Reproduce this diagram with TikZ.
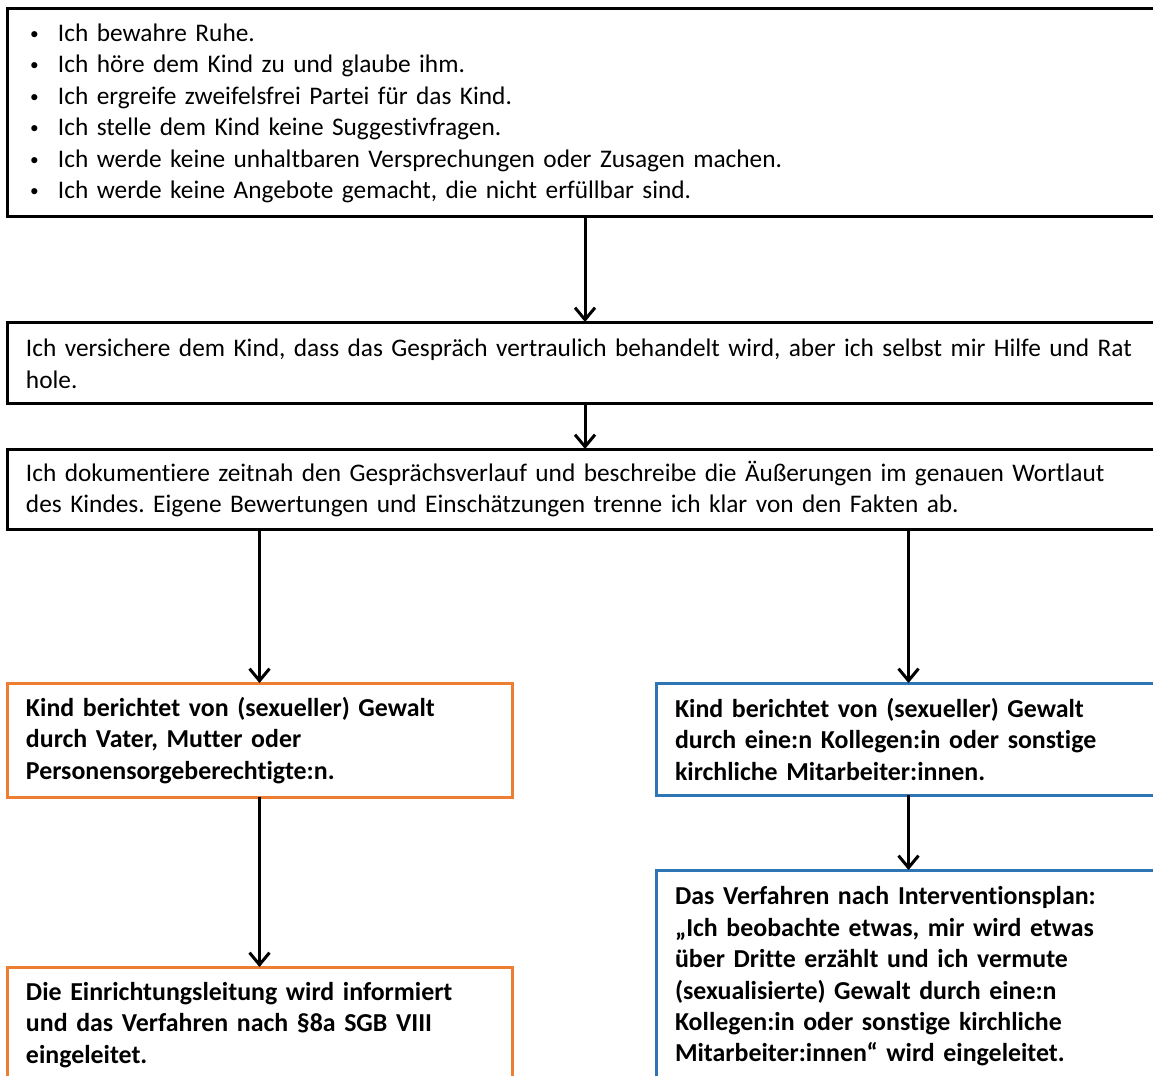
\documentclass[tikz,border=0pt]{standalone}
\usepackage{fontspec}
\setmainfont{Carlito}[Ligatures={NoCommon,NoContextual}]
\usetikzlibrary{arrows.meta}
\definecolor{orangeB}{HTML}{ED7D31}
\definecolor{blueB}{HTML}{2E75B6}
\newcommand{\bul}{\hspace*{3pt}\makebox[21pt][l]{\fontsize{13}{13}\selectfont\raisebox{1.5pt}{•}}}
\frenchspacing
\begin{document}
\begin{tikzpicture}[x=0.75pt,y=-0.75pt,
  box/.style={draw, line width=2.25pt, anchor=north west, align=left,
    inner xsep=14.25pt, inner ysep=0pt, outer sep=0pt,
    execute at begin node={\rule{0pt}{15pt}},
    font=\fontsize{19}{23.6}\selectfont},
  widebox/.style={box, text width=838.5pt},
  halfbox/.style={box, text width=350.25pt, font=\fontsize{19.4}{23.6}\selectfont\bfseries},
  orangebox/.style={halfbox, draw=orangeB},
  bluebox/.style={halfbox, draw=blueB},
  arr/.style={line width=2.25pt, -{Straight Barb[length=9pt,width=15pt]}}]
\useasboundingbox (0,0) rectangle (1153,1075);
\clip (0,0) rectangle (1153,1075);
\node[widebox, minimum height=156pt] (top) at (7,8) {%
\bul Ich bewahre Ruhe.\\
\bul Ich höre dem Kind zu und glaube ihm.\\
\bul Ich ergreife zweifelsfrei Partei für das Kind.\\
\bul Ich stelle dem Kind keine Suggestivfragen.\\
\bul Ich werde keine unhaltbaren Versprechungen oder Zusagen machen.\\
\bul Ich werde keine Angebote gemacht, die nicht erfüllbar sind.};
\node[widebox, minimum height=60.75pt] (conf) at (7,322) {%
Ich versichere dem Kind, dass das Gespräch vertraulich behandelt wird, aber ich selbst mir Hilfe und Rat\\
hole.};
\node[widebox, minimum height=60pt] (doc) at (7,449) {%
Ich dokumentiere zeitnah den Gesprächsverlauf und beschreibe die Äußerungen im genauen Wortlaut\\
des Kindes. Eigene Bewertungen und Einschätzungen trenne ich klar von den Fakten ab.};
\node[orangebox, minimum height=85.5pt] (par) at (7,683) {%
Kind berichtet von (sexueller) Gewalt\\
durch Vater, Mutter oder\\
Personensorgeberechtigte:n.};
\node[bluebox, minimum height=84pt] (col) at (656,683) {%
Kind berichtet von (sexueller) Gewalt\\
durch eine:n Kollegen:in oder sonstige\\
kirchliche Mitarbeiter:innen.};
\node[orangebox, minimum height=85.5pt] (lead) at (7,967) {%
Die Einrichtungsleitung wird informiert\\
und das Verfahren nach §8a SGB VIII\\
eingeleitet.};
\node[bluebox, minimum height=158.25pt] (plan) at (656,870) {%
Das Verfahren nach Interventionsplan:\\
„Ich beobachte etwas, mir wird etwas\\
über Dritte erzählt und ich vermute\\
(sexualisierte) Gewalt durch eine:n\\
Kollegen:in oder sonstige kirchliche\\
Mitarbeiter:innen“ wird eingeleitet.};
\draw[arr] (top.south) -- (conf.north);
\draw[arr] (conf.south) -- (doc.north);
\draw[arr] (doc.south -| par.north) -- (par.north);
\draw[arr] (doc.south -| col.north) -- (col.north);
\draw[arr] (par.south) -- (lead.north);
\draw[arr] (col.south) -- (plan.north);
\end{tikzpicture}
\end{document}
